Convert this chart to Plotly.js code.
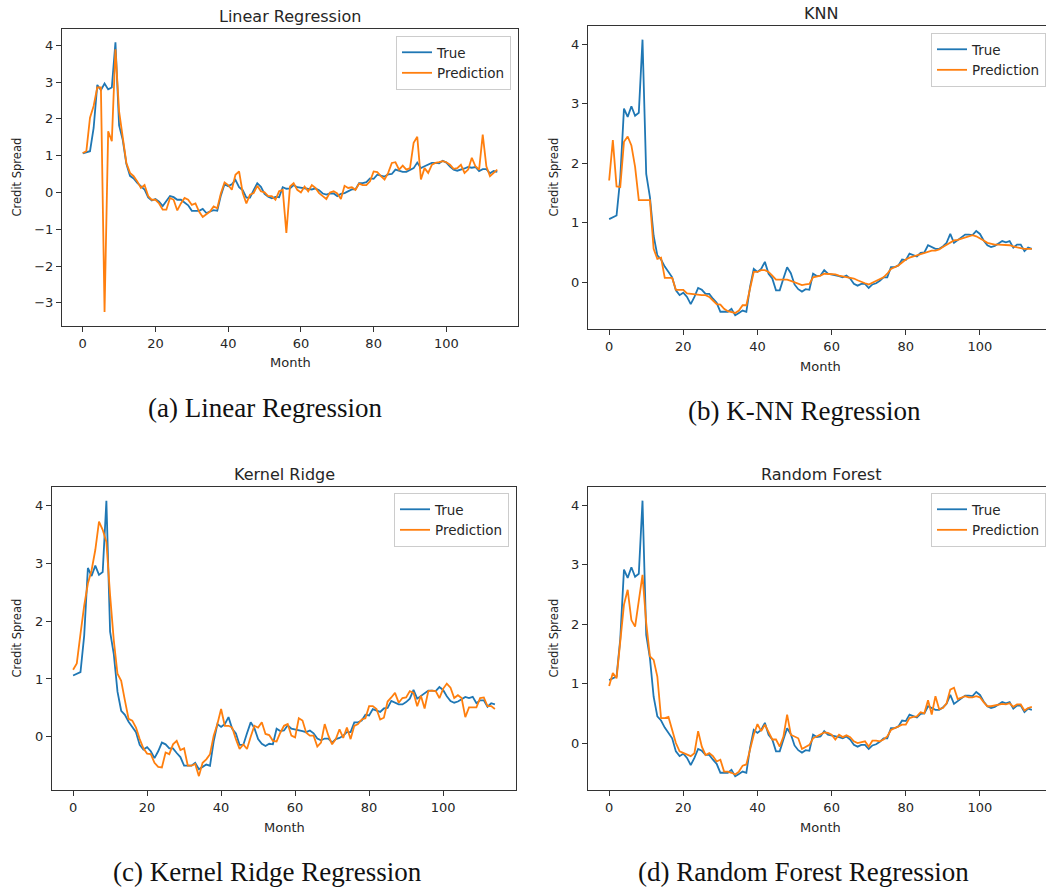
<!DOCTYPE html>
<html>
<head>
<meta charset="utf-8">
<script src="https://cdn.plot.ly/plotly-3.0.1.min.js"></script>
<style>
html, body { margin:0; padding:0; background:#fff; overflow:hidden; width:1046px; height:889px; }
#chart { width:1060px; height:889px; }
</style>
</head>
<body>
<div id="chart"></div>
<script>
// ---------- data ----------
const months = [0,1,2,3,4,5,6,7,8,9,10,11,12,13,14,15,16,17,18,19,20,21,22,23,24,25,26,27,28,29,30,31,32,33,34,35,36,37,38,39,40,41,42,43,44,45,46,47,48,49,50,51,52,53,54,55,56,57,58,59,60,61,62,63,64,65,66,67,68,69,70,71,72,73,74,75,76,77,78,79,80,81,82,83,84,85,86,87,88,89,90,91,92,93,94,95,96,97,98,99,100,101,102,103,104,105,106,107,108,109,110,111,112,113,114];

const trueSpread = [1.06,1.09,1.12,1.75,2.92,2.78,2.96,2.80,2.85,4.08,1.82,1.43,0.78,0.45,0.38,0.26,0.18,0.08,-0.14,-0.22,-0.18,-0.25,-0.37,-0.25,-0.10,-0.13,-0.20,-0.20,-0.28,-0.35,-0.50,-0.50,-0.50,-0.45,-0.56,-0.52,-0.48,-0.50,-0.08,0.22,0.17,0.22,0.34,0.14,0.06,-0.14,-0.14,0.06,0.25,0.15,-0.04,-0.12,-0.16,-0.12,-0.13,0.14,0.10,0.11,0.20,0.14,0.13,0.11,0.10,0.08,0.11,0.06,-0.03,-0.06,-0.03,-0.03,-0.10,-0.04,-0.02,0.02,0.08,0.08,0.25,0.25,0.28,0.38,0.37,0.48,0.45,0.43,0.49,0.50,0.62,0.59,0.56,0.56,0.60,0.66,0.81,0.66,0.71,0.76,0.80,0.80,0.79,0.86,0.81,0.70,0.62,0.59,0.61,0.65,0.69,0.67,0.69,0.58,0.63,0.63,0.52,0.58,0.56];

const predLinear = [1.07,1.12,2.03,2.35,2.85,2.85,-3.25,1.66,1.39,3.89,2.20,1.45,0.80,0.53,0.44,0.30,0.12,0.20,-0.10,-0.20,-0.20,-0.30,-0.47,-0.47,-0.15,-0.20,-0.49,-0.30,-0.15,-0.20,-0.34,-0.30,-0.52,-0.67,-0.60,-0.52,-0.38,-0.43,-0.02,0.27,0.20,0.07,0.48,0.57,-0.02,-0.30,-0.06,-0.02,0.18,0.03,0.00,-0.10,-0.10,-0.20,0.03,0.07,-1.10,0.16,0.25,0.07,0.00,0.16,0.03,0.20,0.12,-0.02,-0.10,-0.18,0.00,0.03,-0.03,-0.18,0.18,0.12,0.14,0.07,0.24,0.20,0.20,0.30,0.57,0.55,0.44,0.35,0.53,0.80,0.82,0.62,0.73,0.62,0.66,1.35,1.51,0.35,0.66,0.53,0.75,0.80,0.82,0.85,0.82,0.75,0.64,0.66,0.75,0.53,0.62,0.94,0.71,0.62,1.57,0.71,0.44,0.53,0.62];

const predKNN = [1.71,2.39,1.61,1.60,2.36,2.45,2.30,1.94,1.38,1.38,1.38,1.38,0.56,0.39,0.41,0.07,0.07,0.07,-0.13,-0.13,-0.13,-0.19,-0.20,-0.21,-0.22,-0.22,-0.22,-0.25,-0.31,-0.37,-0.38,-0.45,-0.49,-0.50,-0.52,-0.48,-0.39,-0.39,-0.08,0.17,0.17,0.20,0.20,0.17,0.11,0.04,0.04,0.04,0.04,0.02,0.00,-0.02,-0.05,-0.04,-0.03,0.08,0.09,0.11,0.14,0.14,0.14,0.13,0.11,0.10,0.08,0.07,0.06,0.03,0.00,-0.02,-0.04,-0.01,0.03,0.06,0.08,0.14,0.22,0.25,0.28,0.33,0.38,0.41,0.43,0.45,0.48,0.50,0.52,0.53,0.53,0.55,0.59,0.63,0.67,0.70,0.71,0.73,0.76,0.77,0.79,0.77,0.74,0.70,0.66,0.64,0.63,0.63,0.63,0.62,0.62,0.60,0.58,0.57,0.56,0.56,0.56];

const predKernelRidge = [1.16,1.27,1.78,2.27,2.65,2.88,3.23,3.72,3.58,3.37,2.45,1.67,1.09,0.97,0.63,0.31,0.28,0.16,-0.04,-0.20,-0.29,-0.30,-0.45,-0.52,-0.53,-0.27,-0.30,-0.13,-0.07,-0.23,-0.20,-0.50,-0.50,-0.47,-0.68,-0.45,-0.39,-0.30,0.02,0.22,0.48,0.19,0.19,0.16,-0.04,-0.21,-0.13,-0.21,0.00,0.19,0.16,0.25,0.05,0.03,-0.07,-0.08,0.07,0.19,0.22,0.02,-0.01,0.32,0.28,0.07,0.02,0.02,-0.17,-0.10,0.22,0.02,-0.13,-0.04,0.13,-0.02,0.16,-0.04,0.19,0.22,0.30,0.32,0.53,0.53,0.48,0.30,0.33,0.61,0.68,0.76,0.59,0.67,0.68,0.79,0.76,0.53,0.71,0.49,0.79,0.80,0.79,0.67,0.83,0.92,0.85,0.67,0.72,0.67,0.34,0.51,0.51,0.51,0.67,0.68,0.53,0.53,0.48];

const predRandomForest = [0.96,1.18,1.09,1.74,2.33,2.58,2.07,1.96,2.41,2.83,2.02,1.46,1.40,1.12,0.42,0.42,0.44,0.22,0.00,-0.14,-0.17,-0.20,-0.22,-0.17,0.20,-0.06,-0.20,-0.17,-0.22,-0.31,-0.28,-0.48,-0.48,-0.50,-0.53,-0.48,-0.38,-0.36,-0.11,0.14,0.32,0.20,0.31,0.17,0.06,0.06,-0.06,0.11,0.48,0.14,0.11,0.08,-0.10,-0.06,-0.03,0.08,0.11,0.14,0.18,0.17,0.14,0.06,0.14,0.10,0.13,0.10,0.03,0.00,0.01,0.03,-0.06,0.04,0.04,0.03,0.06,0.11,0.22,0.25,0.28,0.31,0.31,0.42,0.44,0.45,0.52,0.50,0.72,0.48,0.79,0.57,0.59,0.67,0.90,0.93,0.74,0.76,0.79,0.77,0.77,0.79,0.77,0.69,0.62,0.62,0.63,0.65,0.66,0.65,0.67,0.61,0.65,0.65,0.55,0.59,0.61];

const panelTitles = ["Linear Regression", "KNN", "Kernel Ridge", "Random Forest"];
const captions = ["(a) Linear Regression", "(b) K-NN Regression", "(c) Kernel Ridge Regression", "(d) Random Forest Regression"];
const seriesNames = ["True", "Prediction"];
const xLabel = "Month";
const yLabel = "Credit Spread";

// ---------- layout geometry (pixels) ----------
const W = 1060, H = 889;
const panels = [
  {l:62,  r:518,  t:29,  b:326, yr:[-3.63,4.44], pred:predLinear},
  {l:588, r:1053, t:26,  b:329, yr:[-0.79,4.31], pred:predKNN},
  {l:52,  r:516,  t:487, b:790, yr:[-0.92,4.32], pred:predKernelRidge},
  {l:588, r:1053, t:487, b:790, yr:[-0.79,4.31], pred:predRandomForest}
];
const legendBox = [{r:511,t:36},{r:1046,t:33},{r:509,t:493},{r:1046,t:493}];
const titleY = [16,13,474,474];
const monthY = [362,366,827,827];
const creditX = [16,553,16,553];
const capPos = [{x:265,y:408},{x:804,y:411},{x:267,y:872},{x:803,y:872}];

const px = x => x / W;
const py = y => 1 - y / H;

const BLUE = "#1f77b4", ORANGE = "#ff7f0e";
const TXT = "#262626";
const tickFont = {family:"DejaVu Sans", size:13, color:TXT};
const traces = [];
const layout = {
  width:W, height:H, autosize:false,
  margin:{l:0,r:0,t:0,b:0,pad:0},
  paper_bgcolor:"#fff", plot_bgcolor:"#fff",
  showlegend:true,
  annotations:[]
};

panels.forEach((p, i) => {
  const sfx = i === 0 ? "" : String(i + 1);
  const legName = "legend" + sfx;
  traces.push({x:months, y:trueSpread, type:"scatter", mode:"lines", name:seriesNames[0],
    line:{color:BLUE, width:1.8}, xaxis:"x"+sfx, yaxis:"y"+sfx, legend:legName});
  traces.push({x:months, y:p.pred, type:"scatter", mode:"lines", name:seriesNames[1],
    line:{color:ORANGE, width:1.8}, xaxis:"x"+sfx, yaxis:"y"+sfx, legend:legName});

  const axCommon = {showline:true, mirror:true, linecolor:"#333", linewidth:1,
    ticks:"outside", ticklen:5, tickwidth:1, tickcolor:"#333", showgrid:false,
    zeroline:false, tickfont:tickFont};
  layout["xaxis"+sfx] = Object.assign({}, axCommon, {
    domain:[px(p.l), px(p.r)], range:[-5.7,119.7], tickmode:"linear", tick0:0, dtick:20,
    anchor:"y"+sfx});
  layout["yaxis"+sfx] = Object.assign({}, axCommon, {
    domain:[py(p.b), py(p.t)], range:p.yr, tickmode:"linear", tick0:0, dtick:1,
    anchor:"x"+sfx});

  layout[legName] = {x:px(legendBox[i].r), y:py(legendBox[i].t), xanchor:"right", yanchor:"top",
    bgcolor:"rgba(255,255,255,0.85)", bordercolor:"#cccccc", borderwidth:1,
    font:{family:"DejaVu Sans", size:13.5, color:TXT}, tracegroupgap:0};

  const cx = (p.l + p.r) / 2;
  layout.annotations.push({text:panelTitles[i], xref:"paper", yref:"paper",
    x:px(cx), y:py(titleY[i]), xanchor:"center", yanchor:"middle", showarrow:false,
    font:{family:"DejaVu Sans", size:16, color:TXT}});
  layout.annotations.push({text:xLabel, xref:"paper", yref:"paper",
    x:px(cx), y:py(monthY[i]), xanchor:"center", yanchor:"middle", showarrow:false,
    font:{family:"DejaVu Sans", size:13, color:TXT}});
  layout.annotations.push({text:yLabel, xref:"paper", yref:"paper",
    x:px(creditX[i]), y:py((p.t + p.b) / 2), xanchor:"center", yanchor:"middle", textangle:-90,
    showarrow:false, font:{family:"DejaVu Sans", size:11.5, color:TXT}});
  layout.annotations.push({text:captions[i], xref:"paper", yref:"paper",
    x:px(capPos[i].x), y:py(capPos[i].y), xanchor:"center", yanchor:"middle", showarrow:false,
    font:{family:"Liberation Serif", size:27, color:"#111"}});
});

Plotly.newPlot("chart", traces, layout, {staticPlot:true, displayModeBar:false});
</script>
</body>
</html>
